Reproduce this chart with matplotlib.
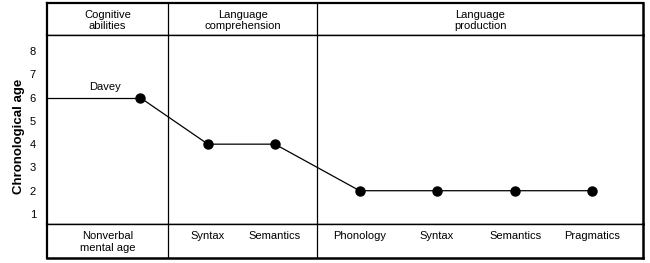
import matplotlib
matplotlib.use("Agg")
import matplotlib.pyplot as plt

plt.rcParams['font.family'] = ['Liberation Sans', 'DejaVu Sans']

# data
domains = ["Cognitive\nabilities", "Language\ncomprehension", "Language\nproduction"]
skills = ["Nonverbal\nmental age", "Syntax", "Semantics",
          "Phonology", "Syntax", "Semantics", "Pragmatics"]
ages = [6, 4, 4, 2, 2, 2, 2]
skill_pos = [1.21, 2.09, 2.96, 4.06, 5.06, 6.08, 7.08]
domain_edges = [0, 1.57, 3.51, 7.74]
yticks = [1, 2, 3, 4, 5, 6, 7, 8]

W, H = 650, 263
fig = plt.figure(figsize=(W / 100, H / 100), dpi=100)

L, R = 47, 643
top, hdr, ftr, bot = 3, 35, 224, 258

def box(y0, y1):
    return [L / W, 1 - y1 / H, (R - L) / W, (y1 - y0) / H]

ax_h = fig.add_axes(box(top, hdr))
ax = fig.add_axes(box(hdr, ftr))
ax_f = fig.add_axes(box(ftr, bot))

for a in (ax_h, ax, ax_f):
    a.set_xlim(domain_edges[0], domain_edges[-1])
    for s in a.spines.values():
        s.set_linewidth(1.0)
    a.spines['left'].set_linewidth(1.6)
    a.spines['right'].set_linewidth(1.8)
    a.set_xticks([])
    for xv in domain_edges[1:-1]:
        a.axvline(xv, color='black', lw=0.9)
ax_h.spines['top'].set_linewidth(1.6)
ax_f.spines['bottom'].set_linewidth(1.8)

ax_h.set_yticks([])
ax_f.set_yticks([])
ax_h.set_ylim(0, 1)
ax_f.set_ylim(0, 1)

# header labels
for i, d in enumerate(domains):
    xc = (domain_edges[i] + domain_edges[i + 1]) / 2
    ax_h.text(xc, 0.45, d, ha='center', va='center', fontsize=8, linespacing=1.2)

# footer labels
for p, s in zip(skill_pos, skills):
    xc = p if s != skills[0] else (domain_edges[0] + domain_edges[1]) / 2
    ax_f.text(xc, 0.80, s, ha='center', va='top', fontsize=8, linespacing=1.25)

# main plot
ax.set_ylim(0.57, 8.69)
ax.set_yticks(yticks)
ax.tick_params(axis='y', length=0, pad=8, labelsize=8)
ax.hlines(ages[0], domain_edges[0], skill_pos[0], color='black', lw=0.9)
ax.plot(skill_pos, ages, color='black', lw=0.9, marker='o', markersize=6.5)
ax.text(0.55, 6.45, "Davey", fontsize=8, ha='left', va='center')
ax.set_ylabel("Chronological age", fontsize=9.5, fontweight='bold')
ax.yaxis.set_label_coords(-0.037, 0.466)

fig.savefig("out.png", dpi=100)
